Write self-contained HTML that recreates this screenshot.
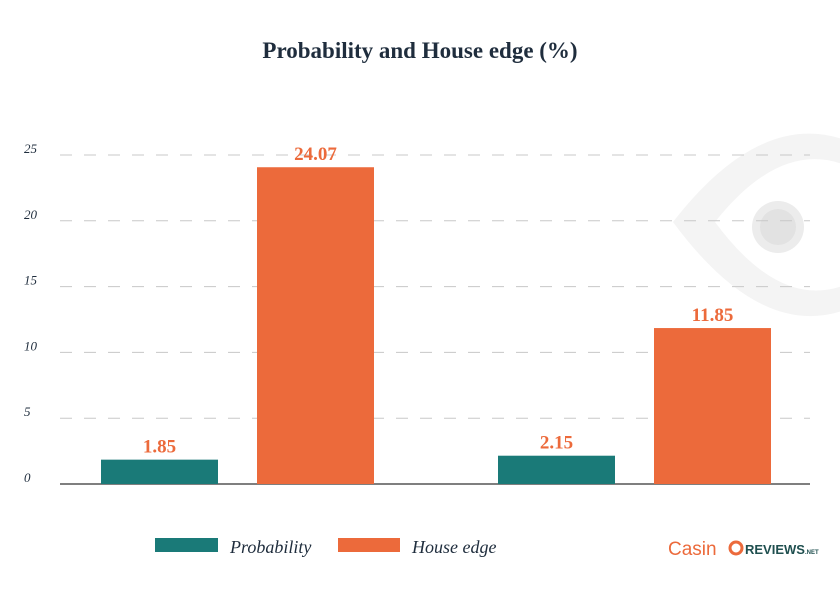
<!DOCTYPE html>
<html><head><meta charset="utf-8"><style>
body{margin:0;background:#fff;}
svg{display:block;}
</style></head><body>
<svg id="chart" width="840" height="600" xmlns="http://www.w3.org/2000/svg">
  <g>
    <path d="M673,222 Q760,110 845,140 L845,310 Q760,340 673,222 Z" fill="#f4f4f4"/>
    <path d="M715,222 Q780,140 845,165 L845,285 Q780,310 715,222 Z" fill="#fff"/>
    <circle cx="778" cy="227" r="26" fill="#ececec"/>
    <circle cx="778" cy="227" r="18" fill="#e2e2e2"/>
  </g>
  <text x="420" y="58" text-anchor="middle" font-family="Liberation Serif, serif" font-weight="bold" font-size="23" fill="#1f2d3d">Probability and House edge (%)</text>
  <g id="grid"></g>
  <g id="bars"></g>
  <g>
    <rect x="155" y="538" width="63" height="14" fill="#1a7a78"/>
    <text x="230" y="553" font-family="Liberation Serif, serif" font-style="italic" font-size="18" fill="#1f2d3d">Probability</text>
    <rect x="338" y="538" width="62" height="14" fill="#ec6a3b"/>
    <text x="412" y="553" font-family="Liberation Serif, serif" font-style="italic" font-size="18" fill="#1f2d3d">House edge</text>
  </g>
  <g>
    <text x="668" y="555" font-family="Liberation Sans, sans-serif" font-size="19" fill="#ec6a3b">Casin</text>
    <circle cx="736" cy="548" r="6" fill="none" stroke="#ec6a3b" stroke-width="3"/>
    <text x="745" y="554" font-family="Liberation Sans, sans-serif" font-weight="bold" font-size="13" fill="#1f4f4f">REVIEWS<tspan font-size="6">.NET</tspan></text>
  </g>
</svg>
<script>
const categories = ["Group 1", "Group 2"];
const probability = [1.85, 2.15];
const houseEdge = [24.07, 11.85];
const yTicks = [0, 5, 10, 15, 20, 25];

const NS = "http://www.w3.org/2000/svg";
const y0 = 484, yTop = 155, yMax = 25;
function yScale(v){ return y0 - (v / yMax) * (y0 - yTop); }
const groupStart = 101, groupStep = 397, barW = 117, barGap = 156;
function xBar(i, s){ return groupStart + i * groupStep + s * barGap; }

const grid = document.getElementById('grid');
yTicks.forEach(t => {
  const y = yScale(t);
  const l = document.createElementNS(NS, 'line');
  l.setAttribute('x1', 60); l.setAttribute('x2', 810);
  l.setAttribute('y1', y); l.setAttribute('y2', y);
  if (t === 0) { l.setAttribute('stroke', '#333'); l.setAttribute('stroke-width', '1.2'); }
  else { l.setAttribute('stroke', '#c8c8c8'); l.setAttribute('stroke-dasharray', '12,12'); }
  
  
  grid.appendChild(l);
  const tx = document.createElementNS(NS, 'text');
  tx.setAttribute('x', 24); tx.setAttribute('y', y - 2 + (t === 0 ? 0 : 0));
  tx.setAttribute('font-family', 'Liberation Serif, serif');
  tx.setAttribute('font-style', 'italic');
  tx.setAttribute('font-size', '13');
  tx.setAttribute('fill', '#1f2d3d');
  
  
  tx.textContent = t;
  grid.appendChild(tx);
});

const bars = document.getElementById('bars');
const series = [[probability, '#1a7a78', 'probability'], [houseEdge, '#ec6a3b', 'house-edge']];
categories.forEach((c, i) => {
  series.forEach(([vals, col, nm], s) => {
    const v = vals[i];
    const r = document.createElementNS(NS, 'rect');
    r.setAttribute('x', xBar(i, s)); r.setAttribute('width', barW);
    r.setAttribute('y', yScale(v)); r.setAttribute('height', y0 - yScale(v));
    r.setAttribute('fill', col);
    
    
    bars.appendChild(r);
    const t = document.createElementNS(NS, 'text');
    t.setAttribute('x', xBar(i, s) + barW / 2); t.setAttribute('y', yScale(v) - 7);
    t.setAttribute('text-anchor', 'middle');
    t.setAttribute('font-family', 'Liberation Serif, serif');
    t.setAttribute('font-weight', 'bold');
    t.setAttribute('font-size', '19');
    t.setAttribute('fill', '#ec6a3b');
    
    
    t.textContent = v.toFixed(2);
    bars.appendChild(t);
  });
});
</script>
</body></html>
